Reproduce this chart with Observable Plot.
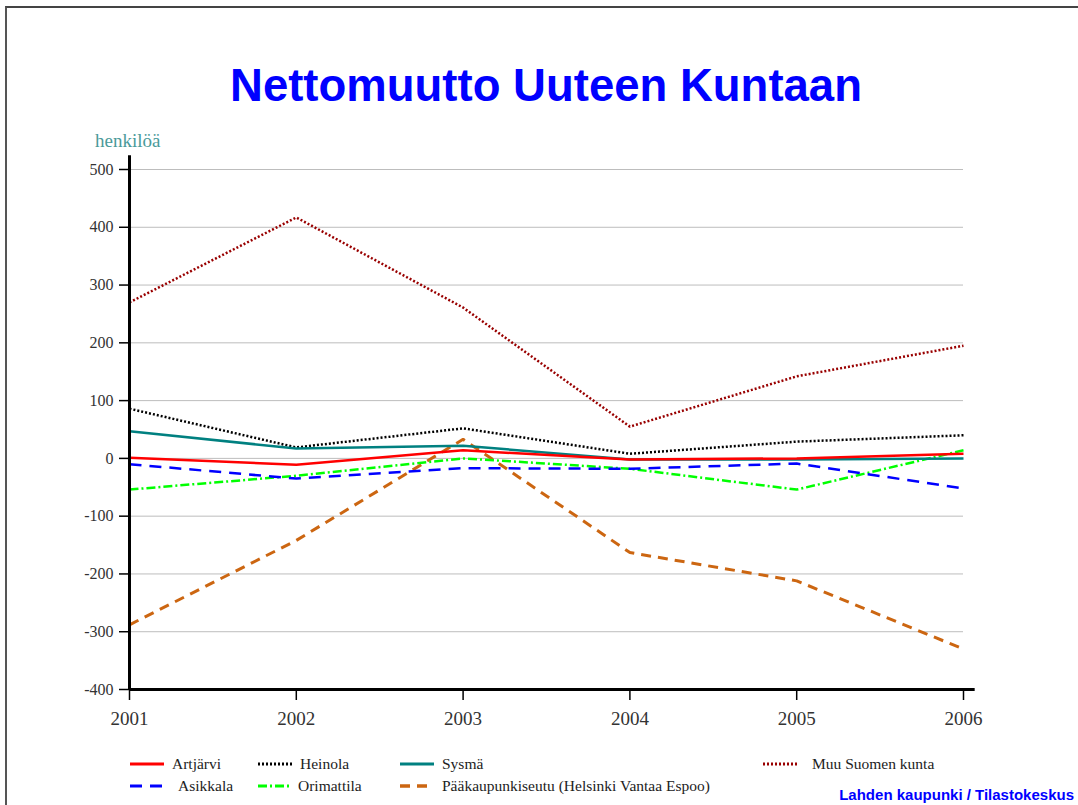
<!DOCTYPE html>
<html>
<head>
<meta charset="utf-8">
<script src="https://cdn.jsdelivr.net/npm/d3@7"></script>
<script src="https://cdn.jsdelivr.net/npm/@observablehq/plot@0.6"></script>
<style>
  html, body { margin: 0; padding: 0; background: #fff; }
  #wrap { position: relative; width: 1078px; height: 805px; overflow: hidden; background: #fff; }
  #frame { position: absolute; left: 5px; top: 6px; width: 1200px; height: 900px;
           border-top: 2px solid #444; border-left: 2px solid #555; }
  #chart { position: absolute; left: 0; top: 0; }
  #title { position: absolute; left: 0; width: 1092px; top: 60px; text-align: center;
           font-family: "Liberation Sans", Arial, sans-serif; font-weight: bold; font-size: 45.5px; color: #0000ff; }
  #ylabel { position: absolute; left: 95px; top: 130px; font-family: "Liberation Serif", serif;
            font-size: 19px; color: #4a9a9a; }
  .leg { position: absolute; font-family: "Liberation Serif", serif; font-size: 15.5px; color: #222;
         display: flex; align-items: center; white-space: nowrap; }
  .leg svg { margin-right: 8px; }
  #caption { position: absolute; right: 4px; top: 786px; font-family: "Liberation Sans", Arial, sans-serif;
             font-weight: bold; font-size: 15px; color: #0000ff; }
</style>
</head>
<body>
<div id="wrap">
  <div id="frame"></div>
  <div id="chart"></div>
  <div id="title">Nettomuutto Uuteen Kuntaan</div>
  <div id="ylabel">henkilöä</div>
  <div id="legend"></div>
  <div id="caption">Lahden kaupunki / Tilastokeskus</div>
</div>
<script>
const years = [2001, 2002, 2003, 2004, 2005, 2006];
const yTicks = [-400, -300, -200, -100, 0, 100, 200, 300, 400, 500];

const artjarvi   = [1, -11, 14, -2, 0, 8];
const heinola    = [86, 19, 52, 8, 29, 40];
const sysma      = [47, 17, 22, -2, -2, 0];
const muuSuomen  = [270, 417, 261, 55, 142, 195];
const asikkala   = [-10, -35, -17, -18, -9, -52];
const orimattila = [-54, -30, 0, -18, -54, 14];
const paakaupunki = [-288, -142, 33, -163, -212, -330];

const seriesNames = ["Artjärvi", "Heinola", "Sysmä", "Muu Suomen kunta", "Asikkala", "Orimattila", "Pääkaupunkiseutu (Helsinki Vantaa Espoo)"];
const seriesValues = [artjarvi, heinola, sysma, muuSuomen, asikkala, orimattila, paakaupunki];
const styles = {
  "Artjärvi": {stroke: "#ff0000", width: 2.5, dash: null},
  "Heinola": {stroke: "#000000", width: 2.5, dash: "2,2"},
  "Sysmä": {stroke: "#008080", width: 2.5, dash: null},
  "Muu Suomen kunta": {stroke: "#990000", width: 2.5, dash: "2,2"},
  "Asikkala": {stroke: "#0000ff", width: 2.5, dash: "12,8"},
  "Orimattila": {stroke: "#00ff00", width: 2.5, dash: "9,3,2,3"},
  "Pääkaupunkiseutu (Helsinki Vantaa Espoo)": {stroke: "#cc6611", width: 3, dash: "10,7"}
};
const drawOrder = ["Muu Suomen kunta", "Pääkaupunkiseutu (Helsinki Vantaa Espoo)", "Heinola", "Orimattila", "Asikkala", "Sysmä", "Artjärvi"];

const rows = seriesNames.map((name, i) => years.map((y, j) => ({name, year: y, value: seriesValues[i][j]})));
const byName = Object.fromEntries(seriesNames.map((n, i) => [n, rows[i]]));

const lineMarks = drawOrder.map(n => Plot.line(byName[n], {
  x: "year", y: "value", stroke: styles[n].stroke, strokeWidth: styles[n].width,
  strokeDasharray: styles[n].dash || undefined, strokeLinejoin: "miter", strokeLinecap: "butt"
}));

const plot = Plot.plot({
  width: 1078, height: 805,
  marginTop: 169, marginBottom: 116, marginLeft: 129, marginRight: 115,
  style: {fontFamily: "'Liberation Serif', serif", fontSize: "16px", color: "#333", background: "transparent", overflow: "visible"},
  x: {domain: [years[0], years[years.length - 1]]},
  y: {domain: [yTicks[0], yTicks[yTicks.length - 1]]},
  marks: [
    Plot.gridY(yTicks.filter(t => t > yTicks[0]), {stroke: "#bdbdbd", strokeOpacity: 1, strokeWidth: 1}),
    ...lineMarks,
    Plot.axisY({ticks: yTicks, tickSize: 10, tickPadding: 6, tickFormat: d => String(d), label: null, stroke: "#000", strokeWidth: 1.5, fill: "#333", fontSize: 16}),
    Plot.axisX({ticks: years, tickSize: 11, tickPadding: 11, tickFormat: d => String(d), label: null, stroke: "#000", strokeWidth: 1.5, fill: "#333", fontSize: 19}),
    Plot.ruleX([years[0]], {y1: yTicks[yTicks.length - 1] + 24, y2: yTicks[0], stroke: "#000", strokeWidth: 3, clip: false}),
    Plot.ruleY([yTicks[0]], {x1: years[0], x2: years[years.length - 1] + 0.07, stroke: "#000", strokeWidth: 3, clip: false})
  ]
});
document.getElementById("chart").appendChild(plot);

const legendPos = [
  {name: "Artjärvi", label: "Artjärvi", x: 130, y: 755},
  {name: "Heinola", label: "Heinola", x: 258, y: 755},
  {name: "Sysmä", label: "Sysmä", x: 400, y: 755},
  {name: "Muu Suomen kunta", label: "Muu Suomen kunta", x: 763, y: 755, gap: 15},
  {name: "Asikkala", label: "Asikkala", x: 130, y: 777, gap: 14},
  {name: "Orimattila", label: "Orimattila", x: 258, y: 777, gap: 6},
  {name: "Pääkaupunkiseutu (Helsinki Vantaa Espoo)", label: "Pääkaupunkiseutu (Helsinki Vantaa Espoo)", x: 400, y: 777}
];
const legend = document.getElementById("legend");
legendPos.forEach(p => {
  const s = styles[p.name];
  const div = document.createElement("div");
  div.className = "leg";
  div.style.left = p.x + "px";
  div.style.top = p.y + "px";
  const w = 34;
  div.innerHTML = `<svg width="${w}" height="18" style="margin-right:${p.gap || 8}px"><line x1="0" y1="9" x2="${w}" y2="9" stroke="${s.stroke}" stroke-width="${s.width + 0.5}" ${s.dash ? `stroke-dasharray="${s.dash}"` : ""}/></svg><span>${p.label}</span>`;
  legend.appendChild(div);
});
</script>
</body>
</html>
